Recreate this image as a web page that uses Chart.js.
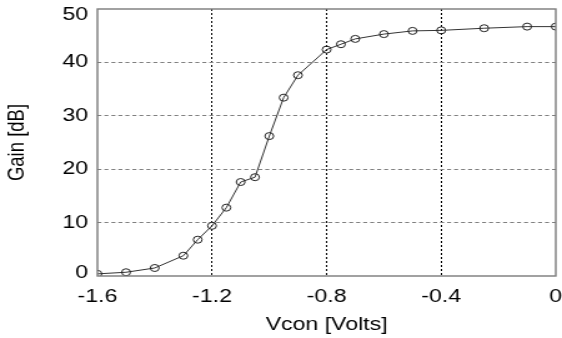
<!DOCTYPE html>
<html>
<head>
<meta charset="utf-8">
<script src="https://cdn.jsdelivr.net/npm/chart.js@4"></script>
<style>
html,body{margin:0;padding:0;background:#fff;overflow:hidden;}
#wrap{width:450px;height:338px;position:relative;transform:scaleX(1.24889);transform-origin:0 0;}
</style>
</head>
<body>
<div id="wrap"><canvas id="c" width="450" height="338"></canvas></div>
<script>
const vcon = [-1.6, -1.5, -1.4, -1.3, -1.25, -1.2, -1.15, -1.1, -1.05, -1.0, -0.95, -0.9, -0.8, -0.75, -0.7, -0.6, -0.5, -0.4, -0.25, -0.1, 0];
const gain = [0.4, 0.7, 1.5, 3.8, 6.8, 9.4, 12.8, 17.6, 18.5, 26.2, 33.4, 37.6, 42.4, 43.4, 44.4, 45.3, 45.9, 46.0, 46.4, 46.7, 46.7];
const xTicks = [-1.6, -1.2, -0.8, -0.4, 0];
const yTicks = [0, 10, 20, 30, 40, 50];
const xTitle = 'Vcon [Volts]';
const yTitle = 'Gain [dB]';

const frame = {
  id: 'frame',
  beforeDraw(chart){
    // keep end labels of the y axis inside the plot box (as in the original)
    const s = chart.scales.y;
    const items = s.getLabelItems();
    items.forEach((it, i) => {
      const t = s.ticks[i];
      if (!t || !it.options || !it.options.translation) return;
      if (t.value === s.max) it.options.translation[1] += 6;
      if (t.value === s.min) it.options.translation[1] -= 3;
    });
  },
  afterDraw(chart){
    const a = chart.chartArea, ctx = chart.ctx;
    ctx.save();
    ctx.strokeStyle = '#7a7a7a';
    ctx.lineWidth = 1.4;
    ctx.strokeRect(a.left, a.top, a.right - a.left, a.bottom - a.top);
    ctx.restore();
  }
};

const font = {family: '"Liberation Sans", Arial, sans-serif', size: 18.5};

new Chart(document.getElementById('c'), {
  type: 'line',
  data: {
    datasets: [{
      data: vcon.map((v, i) => ({x: v, y: gain[i]})),
      borderColor: '#333',
      borderWidth: 1,
      pointStyle: 'circle',
      pointRadius: 3.5,
      pointBorderWidth: 1,
      pointBorderColor: '#222',
      pointBackgroundColor: 'rgba(0,0,0,0)',
      fill: false,
      tension: 0
    }]
  },
  options: {
    responsive: false,
    animation: false,
    events: [],
    layout: {padding: {left: 0, right: 4.5, top: 9, bottom: 0}},
    plugins: {legend: {display: false}, tooltip: {enabled: false}},
    scales: {
      x: {
        type: 'linear',
        min: -1.6, max: 0,
        afterBuildTicks(s){ s.ticks = xTicks.map(v => ({value: v})); },
        afterFit(s){ s.height = 62; s.paddingLeft = 0; s.paddingRight = 0; },
        ticks: {
          color: '#000', font: font, padding: 10, maxRotation: 0,
          callback: v => String(Math.round(v*10)/10)
        },
        grid: {
          drawTicks: false,
          color: c => (c.tick && (c.tick.value === -1.6 || c.tick.value === 0)) ? 'rgba(0,0,0,0)' : '#000',
          lineWidth: 1
        },
        border: {display: false, dash: [2, 2]},
        title: {display: true, text: xTitle, color: '#000', font: font, padding: {top: 0, bottom: 2}}
      },
      y: {
        min: 0, max: 50,
        afterBuildTicks(s){ s.ticks = yTicks.map(v => ({value: v})); },
        afterFit(s){ s.width = 78; s.paddingTop = 0; s.paddingBottom = 0; },
        ticks: {color: '#000', font: font, padding: 7.5},
        grid: {
          drawTicks: false,
          color: c => (c.tick && (c.tick.value === 0 || c.tick.value === 50)) ? 'rgba(0,0,0,0)' : '#808080',
          lineWidth: 1
        },
        border: {display: false, dash: [3.2, 2.4]},
        title: {display: true, text: yTitle, color: '#000', font: font, padding: {top: 2.5, bottom: 0}}
      }
    }
  },
  plugins: [frame]
});
</script>
</body>
</html>
